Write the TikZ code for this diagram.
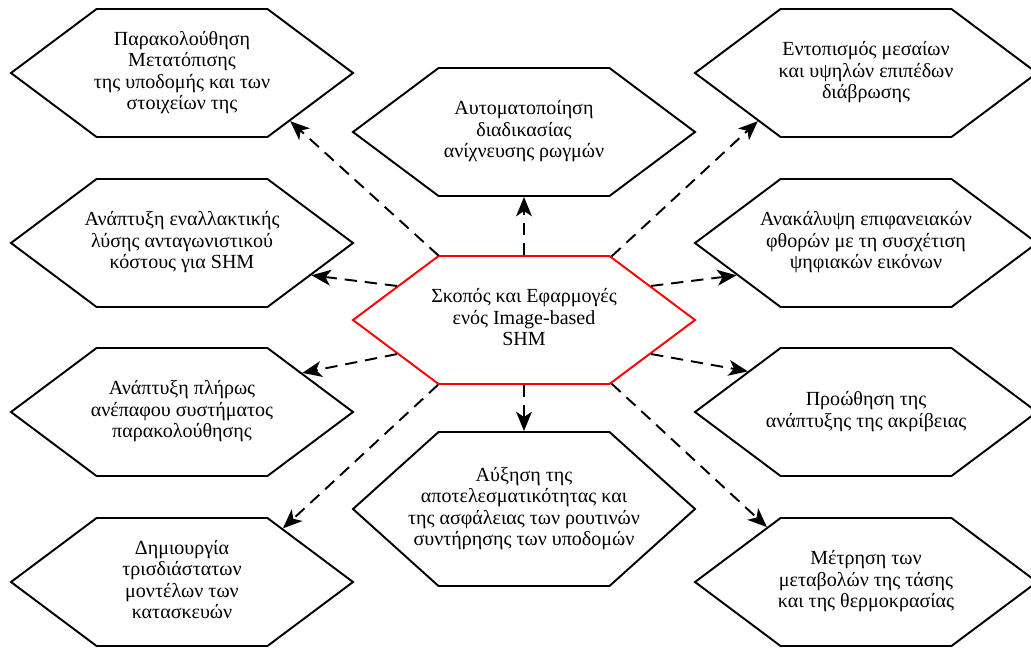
\documentclass[tikz,border=0pt]{standalone}
\usepackage{fontspec}
\setmainfont{Liberation Serif}
\usetikzlibrary{shapes.symbols,arrows.meta}

% centred lines in a box of fixed width, so every hexagon keeps the same size
\newcommand{\hexlines}[1]{\makebox[3cm][c]{\begin{tabular}{@{}c@{}}#1\end{tabular}}}

\tikzset{
  hexa/.style={shape=signal, signal to=east and west,
    signal pointer angle=73.6,
    minimum width=6.84cm, minimum height=2.56cm, inner sep=0pt,
    draw=black, line width=1.1pt, fill=white,
    font=\fontsize{11.4}{12.2}\selectfont},
  tallhexa/.style={hexa, signal pointer angle=84, minimum height=3.08cm},
  mainhexa/.style={hexa, draw=red},
  link/.style={line width=1.1pt, dash pattern=on 7pt off 4.5pt,
    -{Stealth[length=11pt,width=9pt,inset=3pt]}}
}

\begin{document}
\begin{tikzpicture}
\useasboundingbox (0,0) rectangle (20.62,-12.96);
\clip (0,0) rectangle (20.62,-12.96);

% central goal
\node[mainhexa] (c) at (10.48,-6.40) {\hexlines{Σκοπός και Εφαρμογές\\ενός Image-based\\SHM}};

% upper and lower middle
\node[hexa] (tm) at (10.48,-2.64) {\hexlines{Αυτοματοποίηση\\διαδικασίας\\ανίχνευσης ρωγμών}};
\node[tallhexa] (bm) at (10.48,-10.18) {\hexlines{Αύξηση της\\αποτελεσματικότητας και\\της ασφάλειας των ρουτινών\\συντήρησης των υποδομών}};

% left column
\node[hexa] (tl) at (3.64,-1.46) {\hexlines{Παρακολούθηση\\Μετατόπισης\\της υποδομής και των\\στοιχείων της}};
\node[hexa] (ml) at (3.64,-4.86) {\hexlines{Ανάπτυξη εναλλακτικής\\λύσης ανταγωνιστικού\\κόστους για SHM}};
\node[hexa] (ll) at (3.64,-8.24) {\hexlines{Ανάπτυξη πλήρως\\ανέπαφου συστήματος\\παρακολούθησης}};
\node[hexa] (bl) at (3.64,-11.64) {\hexlines{Δημιουργία\\τρισδιάστατων\\μοντέλων των\\κατασκευών}};

% right column
\node[hexa] (tr) at (17.32,-1.46) {\hexlines{Εντοπισμός μεσαίων\\και υψηλών επιπέδων\\διάβρωσης}};
\node[hexa] (mr) at (17.32,-4.86) {\hexlines{Ανακάλυψη επιφανειακών\\φθορών με τη συσχέτιση\\ψηφιακών εικόνων}};
\node[hexa] (lr) at (17.32,-8.24) {\hexlines{Προώθηση της\\ανάπτυξης της ακρίβειας}};
\node[hexa] (br) at (17.32,-11.64) {\hexlines{Μέτρηση των\\μεταβολών της τάσης\\και της θερμοκρασίας}};

% connectors from the goal to each application
\draw[link] (c.143.2) -- (tl.-24.6);
\draw[link] (c.north) -- (tm.south);
\draw[link] (c.36.8) -- (tr.204.6);
\draw[link] (c.165) -- (ml.-14);
\draw[link] (c.15) -- (mr.194);
\draw[link] (c.195) -- (ll.18.7);
\draw[link] (c.-15) -- (lr.161.3);
\draw[link] (c.-143.2) -- (bl.28.6);
\draw[link] (c.south) -- (bm.north);
\draw[link] (c.-36.8) -- (br.151.4);
\end{tikzpicture}
\end{document}
